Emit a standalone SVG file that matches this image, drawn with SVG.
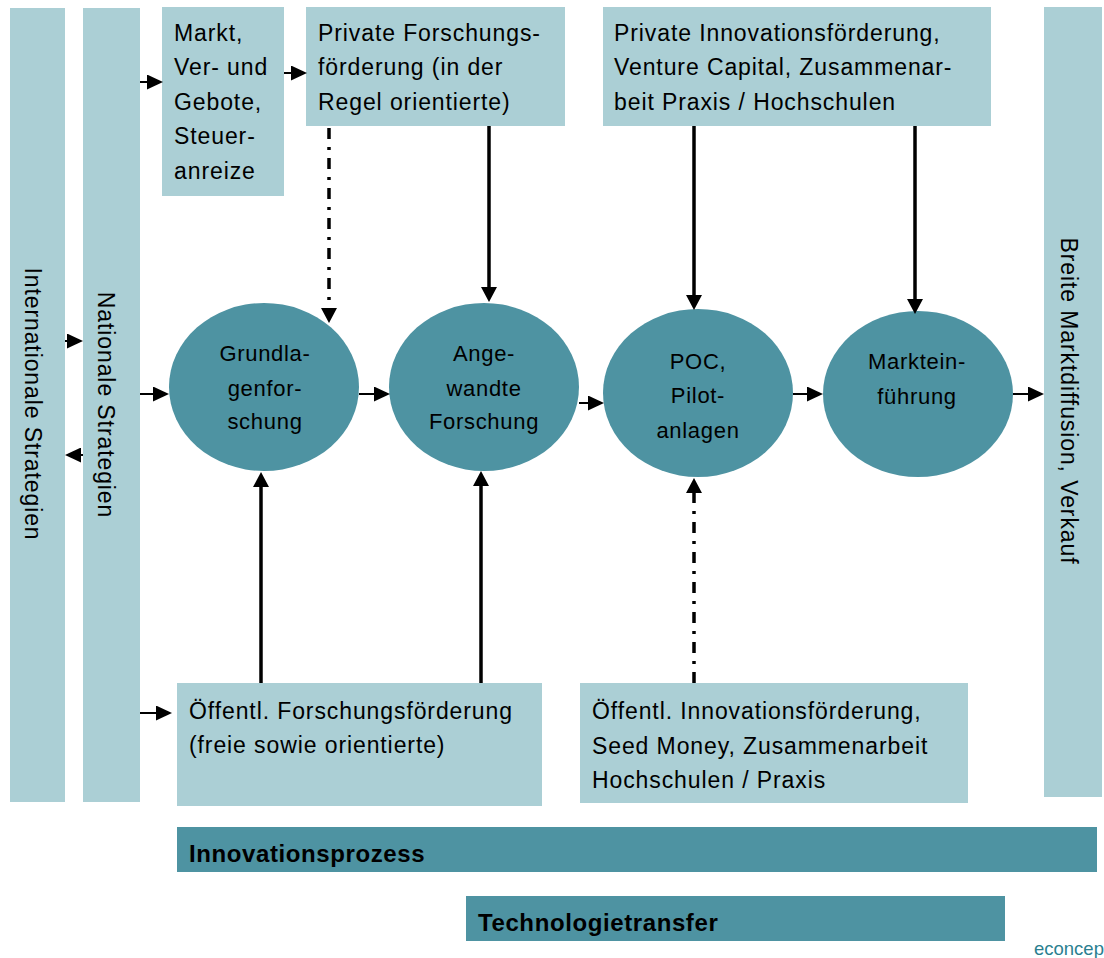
<svg xmlns="http://www.w3.org/2000/svg" width="1104" height="958" viewBox="0 0 1104 958">
<style>
.lt{fill:#abcfd5}
.dk{fill:#4e93a2}
.t{font-family:"Liberation Sans",Arial,sans-serif;font-size:23px;letter-spacing:0.9px;fill:#000}
.te{font-family:"Liberation Sans",Arial,sans-serif;font-size:22px;letter-spacing:0.7px;fill:#000;text-anchor:middle}
.tv{font-family:"Liberation Sans",Arial,sans-serif;font-size:23px;letter-spacing:0.9px;fill:#000;text-anchor:middle}
.tb{font-family:"Liberation Sans",Arial,sans-serif;font-size:24px;letter-spacing:0.6px;font-weight:bold;fill:#000}
.thin{stroke:#000;stroke-width:2;fill:none;marker-end:url(#ah)}
.thick{stroke:#000;stroke-width:3.5;fill:none;marker-end:url(#ahv)}
.dd{stroke-dasharray:11 8 3 8}
</style>
<defs>
<marker id="ah" markerUnits="userSpaceOnUse" markerWidth="16" markerHeight="15" viewBox="0 0 16 15" refX="3" refY="7.5" orient="auto"><path d="M0,0 L16,7.5 L0,15 z" fill="#000"/></marker>
<marker id="ahv" markerUnits="userSpaceOnUse" markerWidth="15" markerHeight="16" viewBox="0 0 15 16" refX="3" refY="8" orient="auto"><path d="M0,0 L15,8 L0,16 z" fill="#000"/></marker>
</defs>
<rect width="1104" height="958" fill="#fff"/>

<g id="intl">
<rect class="lt" x="10" y="8" width="55" height="794"/>
<text class="tv" transform="translate(25,404) rotate(90)">Internationale Strategien</text>
</g>
<g id="national">
<rect class="lt" x="83" y="8" width="57" height="794"/>
<text class="tv" transform="translate(98,405) rotate(90)">Nationale Strategien</text>
</g>
<g id="markt">
<rect class="lt" x="162" y="7" width="122" height="189"/>
<text class="t" x="174" y="41">Markt,</text>
<text class="t" x="174" y="75">Ver- und</text>
<text class="t" x="174" y="110">Gebote,</text>
<text class="t" x="174" y="144">Steuer-</text>
<text class="t" x="174" y="179">anreize</text>
</g>
<g id="privforsch">
<rect class="lt" x="306" y="7" width="259" height="119"/>
<text class="t" x="318" y="41">Private Forschungs-</text>
<text class="t" x="318" y="75">förderung (in der</text>
<text class="t" x="318" y="110">Regel orientierte)</text>
</g>
<g id="privinno">
<rect class="lt" x="603" y="7" width="388" height="119"/>
<text class="t" x="614" y="41">Private Innovationsförderung,</text>
<text class="t" x="614" y="75">Venture Capital, Zusammenar-</text>
<text class="t" x="614" y="110">beit Praxis / Hochschulen</text>
</g>
<g id="breite">
<rect class="lt" x="1044" y="7" width="58" height="790"/>
<text class="tv" transform="translate(1061,401) rotate(90)">Breite Marktdiffusion, Verkauf</text>
</g>

<g id="grundlagen">
<ellipse class="dk" cx="264" cy="387" rx="95" ry="84"/>
<text class="te" x="265" y="361">Grundla-</text>
<text class="te" x="265" y="396">genfor-</text>
<text class="te" x="265" y="429">schung</text>
</g>
<g id="angewandt">
<ellipse class="dk" cx="484" cy="387" rx="95" ry="84"/>
<text class="te" x="484" y="361">Ange-</text>
<text class="te" x="484" y="396">wandte</text>
<text class="te" x="484" y="429">Forschung</text>
</g>
<g id="poc">
<ellipse class="dk" cx="698" cy="393" rx="95" ry="84"/>
<text class="te" x="698" y="369">POC,</text>
<text class="te" x="698" y="403">Pilot-</text>
<text class="te" x="698" y="438">anlagen</text>
</g>
<g id="markteinfuehrung">
<ellipse class="dk" cx="918" cy="394" rx="95" ry="83"/>
<text class="te" x="917" y="369">Marktein-</text>
<text class="te" x="917" y="404">führung</text>
</g>

<g id="oeffforsch">
<rect class="lt" x="177" y="683" width="365" height="123"/>
<text class="t" x="189" y="719">Öffentl. Forschungsförderung</text>
<text class="t" x="189" y="753">(freie sowie orientierte)</text>
</g>
<g id="oeffinno">
<rect class="lt" x="580" y="683" width="388" height="120"/>
<text class="t" x="592" y="719">Öffentl. Innovationsförderung,</text>
<text class="t" x="592" y="754">Seed Money, Zusammenarbeit</text>
<text class="t" x="592" y="788">Hochschulen / Praxis</text>
</g>
<g id="innovationsprozess">
<rect class="dk" x="177" y="827" width="920" height="45"/>
<text class="tb" x="189" y="862">Innovationsprozess</text>
</g>
<g id="technologietransfer">
<rect class="dk" x="466" y="896" width="539" height="45"/>
<text class="tb" x="478" y="931">Technologietransfer</text>
</g>
<text x="1034" y="955" font-family="Liberation Sans, Arial, sans-serif" font-size="18.5" fill="#2b7f90">econcep</text>

<g id="connectors">
<path class="thin" d="M140,82 H150"/>
<path class="thin" d="M284,73 H294"/>
<path class="thin" d="M65,341 H70"/>
<path class="thin" d="M83,455 H78"/>
<path class="thin" d="M140,394 H156"/>
<path class="thin" d="M359,394 H377"/>
<path class="thin" d="M579,403 H591"/>
<path class="thin" d="M793,394 H810"/>
<path class="thin" d="M1013,394 H1031"/>
<path class="thin" d="M140,713 H159"/>
<path class="thick dd" d="M329,128 V311"/>
<path class="thick" d="M489,126 V290"/>
<path class="thick" d="M694,126 V298"/>
<path class="thick" d="M915,126 V302"/>
<path class="thick" d="M261,683 V484"/>
<path class="thick" d="M481,683 V483"/>
<path class="thick dd" d="M694,683 V490"/>
</g>
</svg>
